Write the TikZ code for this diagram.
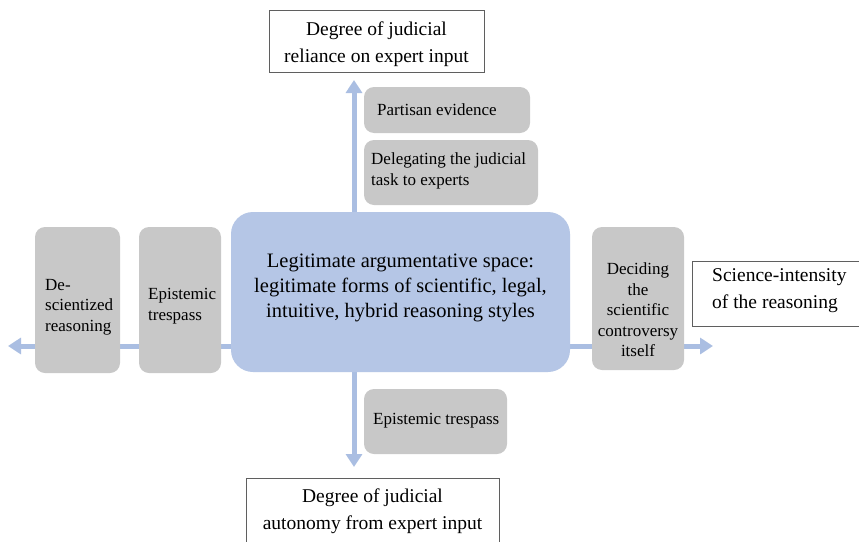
\documentclass[tikz,border=0pt]{standalone}
\usepackage{fontspec}
\setmainfont{Liberation Serif}
\usetikzlibrary{arrows.meta,backgrounds}
\definecolor{boxgray}{RGB}{200,200,200}
\definecolor{mainblue}{RGB}{181,198,230}
\definecolor{arrowblue}{RGB}{170,190,226}
\definecolor{bordergray}{RGB}{95,95,95}
\begin{document}
\begin{tikzpicture}[x=1pt,y=-1pt,
  gbox/.style={fill=boxgray,draw=none,rounded corners=10pt,inner sep=0pt},
  mainbox/.style={fill=mainblue,draw=none,rounded corners=22pt,inner sep=0pt},
  wbox/.style={draw=bordergray,fill=white,line width=0.8pt,inner sep=0pt},
  gtxt/.style={font=\fontsize{17}{20.5}\selectfont,inner sep=0pt},
  wtxt/.style={font=\fontsize{19.5}{27}\selectfont,inner sep=0pt,align=center},
  mtxt/.style={font=\fontsize{20.5}{25}\selectfont,inner sep=0pt,align=center},
  arr/.style={draw=arrowblue,line width=5pt,-{Triangle[width=16pt,length=13pt]}}]
\useasboundingbox (0,0) rectangle (859,541);
\clip (0,0) rectangle (859,541);

% boxes
\node[mainbox,minimum width=339pt,minimum height=160pt] (main) at (400.5,292) {};
\node[gbox,minimum width=85pt,minimum height=146pt] (desci) at (77.5,300) {};
\node[gbox,minimum width=82pt,minimum height=146pt] (epil) at (180,300) {};
\node[gbox,minimum width=92pt,minimum height=143pt] (decide) at (638,298.5) {};
\node[gbox,minimum width=166pt,minimum height=46pt] (partisan) at (447,110) {};
\node[gbox,minimum width=174pt,minimum height=65pt] (deleg) at (451,172.5) {};
\node[gbox,minimum width=143pt,minimum height=65pt] (epib) at (435.5,421.5) {};
\node[wbox,minimum width=215pt,minimum height=62pt] (top) at (376.5,41) {};
\node[wbox,minimum width=253pt,minimum height=82pt] (bottom) at (372.5,519) {};
\node[wbox,minimum width=188pt,minimum height=65pt] (science) at (786,293.5) {};

% texts
\node[mtxt] (maint) at (400.5,288) {Legitimate argumentative space:\\legitimate forms of scientific, legal,\\intuitive, hybrid reasoning styles};
\node[gtxt,anchor=west,align=left] (descit) at (45,307) {De-\\scientized\\reasoning};
\node[gtxt,anchor=west,align=left] (epilt) at (148,306) {Epistemic\\trespass};
\node[gtxt,align=center] (decidet) at (638,310) {Deciding\\the\\scientific\\controversy\\itself};
\node[gtxt,anchor=west] (partisant) at (377,110) {Partisan evidence};
\node[gtxt,anchor=west,align=left] (delegt) at (371,171) {Delegating the judicial\\task to experts};
\node[gtxt,anchor=west] (epibt) at (373,421) {Epistemic trespass};
\node[wtxt] (topt) at (376.5,44) {Degree of judicial\\reliance on expert input};
\node[wtxt] (bottomt) at (372.5,511) {Degree of judicial\\autonomy from expert input};
\node[wtxt,anchor=west,align=left] (sciencet) at (712,291) {Science-intensity\\of the reasoning};

% arrows
\coordinate (O) at (354,346);
\coordinate (ntip) at (354,80);
\coordinate (stip) at (354,467);
\coordinate (wtip) at (8,346);
\coordinate (etip) at (713,346);
\begin{scope}[on background layer]
\fill[white] (0,0) rectangle (859,541);
\draw[arr] (O) -- (ntip);
\draw[arr] (O) -- (stip);
\draw[arr] (O) -- (wtip);
\draw[arr] (O) -- (etip);
\end{scope}
\end{tikzpicture}
\end{document}
